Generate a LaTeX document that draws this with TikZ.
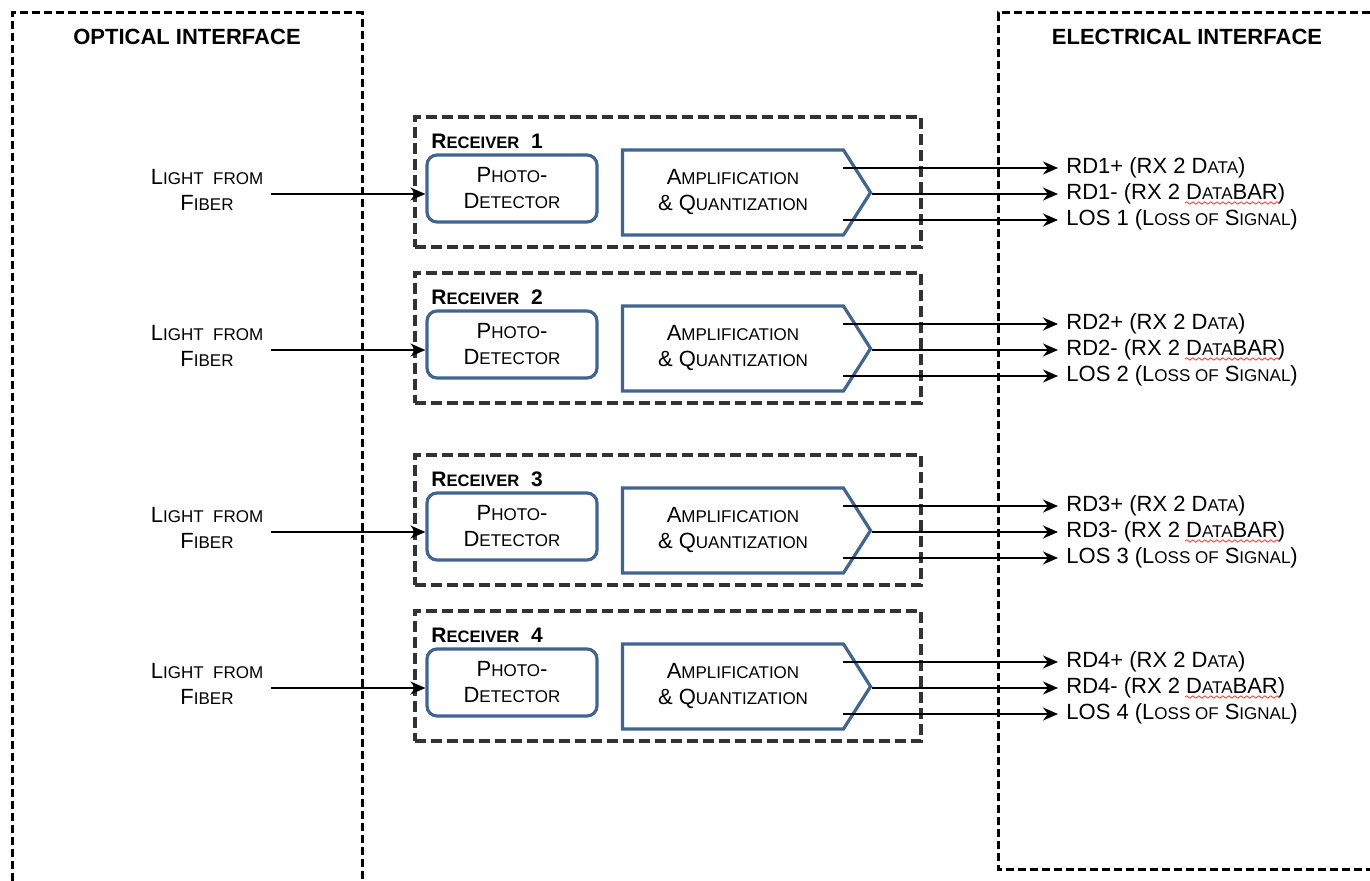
\documentclass[tikz,border=0pt]{standalone}
\usepackage{fontspec}
\setmainfont{Liberation Sans}
\usetikzlibrary{shapes.symbols,arrows.meta,decorations.pathmorphing}
\definecolor{boxblue}{RGB}{65,100,145}
\newcommand{\sm}[1]{{\fontsize{8.5}{10}\selectfont #1}}
\newcommand{\smb}[1]{{\fontsize{8.3}{10}\selectfont #1}}

\begin{document}
\begin{tikzpicture}[x=0.5pt, y=-0.5pt,
    font=\fontsize{11}{13}\selectfont,
    iface/.style={draw=black, dash pattern=on 4pt off 2pt, line width=1.5pt},
    title/.style={font=\fontsize{11}{13}\selectfont\bfseries},
    rxbox/.style={draw=black!80, dash pattern=on 5.5pt off 2.5pt, line width=1.6pt, minimum width=253pt, minimum height=65pt, inner sep=0pt},
    rxlabel/.style={anchor=west, inner sep=0pt, font=\fontsize{10.5}{12}\selectfont\bfseries},
    pdbox/.style={draw=boxblue, line width=1.6pt, rounded corners=5pt, minimum width=85pt, minimum height=33.5pt, align=center, inner sep=0pt},
    ampbox/.style={draw=boxblue, line width=1.6pt, signal, signal to=east, signal pointer angle=115, minimum width=124pt, minimum height=42.5pt, align=center, inner sep=0pt},
    lightlbl/.style={align=center, inner sep=0pt, font=\fontsize{11}{13}\selectfont},
    outlbl/.style={anchor=west, inner sep=4pt},
    arr/.style={-{Stealth[length=7.5pt,width=6.5pt]}, line width=1pt},
]
    % frame of the picture
    \useasboundingbox (0,0) rectangle (1370,881);

    % interfaces
    \draw[iface] (12,881) -- (12,13) -- (362,13) -- (362,881);
    \draw[iface] (1370,13) -- (998,13) -- (998,869) -- (1370,869);
    \node[title] (optical) at (187,37) {OPTICAL INTERFACE};
    \node[title] (electrical) at (1187,37) {ELECTRICAL INTERFACE};

    % the four receivers
    \foreach \i/\cy in {1/182, 2/338, 3/520, 4/676} {
        \node[rxbox] (rx\i) at (668,\cy) {};
        \node[rxlabel] (rxl\i) at (431,\cy-41) {R\smb{ECEIVER}\ \ \i};
        \node[pdbox] (pd\i) at (512,\cy+6.5) {P\sm{HOTO}-\\D\sm{ETECTOR}};
        \node[ampbox] (amp\i) at (733,\cy+10.5) {A\sm{MPLIFICATION}\\\& Q\sm{UANTIZATION}};
        \node[lightlbl] (light\i) at (207,\cy+8) {L\sm{IGHT\ \ FROM}\\F\sm{IBER}};

        % input from fiber
        \coordinate (in\i) at (271,\cy+12);
        \draw[arr] (in\i) -- (pd\i.west |- in\i);

        % outputs
        \node[outlbl] (data\i) at (1058,\cy-14) {RD\i+ (RX 2 D\sm{ATA})};
        \node[outlbl] (bar\i) at (1058,\cy+12) {RD\i- (RX 2 D\sm{ATA}BAR)};
        \node[outlbl] (los\i) at (1058,\cy+38) {LOS \i\ (L\sm{OSS OF} S\sm{IGNAL})};
        \coordinate (o1\i) at (843,\cy-14);
        \coordinate (o3\i) at (843,\cy+38);
        \draw[arr] (o1\i) -- (data\i.west);
        \draw[arr] (amp\i.east |- bar\i) -- (bar\i.west);
        \draw[arr] (o3\i) -- (los\i.west);

        % spelling mark
        \draw[red!80, line width=0.4pt, decorate, decoration={snake, amplitude=0.6pt, segment length=3pt}]
            (1185,\cy+21) -- (1280,\cy+21);
    }
\end{tikzpicture}
\end{document}
